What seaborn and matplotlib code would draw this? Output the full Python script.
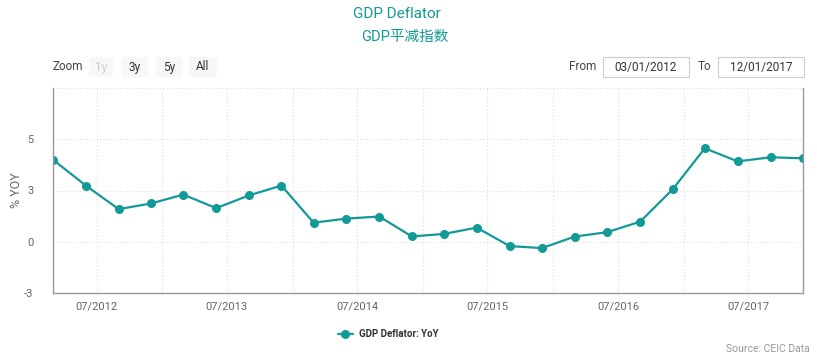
import numpy as np
import pandas as pd
import matplotlib
matplotlib.use("Agg")
import matplotlib.pyplot as plt
import matplotlib.dates as mdates
from matplotlib.patches import Rectangle
import seaborn as sns

dates = ["2012-03-01", "2012-06-01", "2012-09-01", "2012-12-01",
         "2013-03-01", "2013-06-01", "2013-09-01", "2013-12-01",
         "2014-03-01", "2014-06-01", "2014-09-01", "2014-12-01",
         "2015-03-01", "2015-06-01", "2015-09-01", "2015-12-01",
         "2016-03-01", "2016-06-01", "2016-09-01", "2016-12-01",
         "2017-03-01", "2017-06-01", "2017-09-01", "2017-12-01"]
yoy = [4.0, 2.74, 1.59, 1.87, 2.30, 1.64, 2.26, 2.74,
       0.93, 1.13, 1.23, 0.26, 0.38, 0.69, -0.21, -0.31,
       0.25, 0.47, 0.98, 2.56, 4.56, 3.92, 4.12, 4.07]
ytick_vals = [-2.5, 0, 2.5, 5, 7.5]
ytick_labels = ["-3", "0", "3", "5", ""]

TEAL = "#129a96"
GRAY = "#666666"
W, H = 817, 358

sns.set_style("white")
plt.rcParams["font.family"] = ["Roboto", "Noto Sans CJK SC", "DejaVu Sans"]

df = pd.DataFrame({"date": pd.to_datetime(dates), "yoy": yoy})

fig = plt.figure(figsize=(W/100, H/100), dpi=100)
ax = fig.add_axes([53/W, 1-293/H, (803-53)/W, (293-88)/H])

sns.lineplot(data=df, x="date", y="yoy", ax=ax, color=TEAL, linewidth=1.6,
             marker="o", markersize=6.5, markeredgewidth=0, label="GDP Deflator: YoY",
             legend=False)

ax.set_xlim(df["date"].iloc[0], df["date"].iloc[-1])
ax.set_ylim(-2.5, 7.5)
ax.set_yticks(ytick_vals)
ax.set_yticklabels(ytick_labels)

ax.xaxis.set_major_locator(mdates.MonthLocator(bymonth=[7]))
ax.xaxis.set_major_formatter(mdates.DateFormatter("%m/%Y"))
ax.xaxis.set_minor_locator(mdates.MonthLocator(bymonth=[1]))

ax.grid(True, which="both", axis="x", color="#dddddd", linestyle=(0, (1, 2)), linewidth=0.8)
ax.grid(True, which="major", axis="y", color="#dddddd", linestyle=(0, (1, 2)), linewidth=0.8)

ax.tick_params(axis="x", which="major", length=0, labelsize=8, labelcolor=GRAY, pad=6)
ax.tick_params(axis="x", which="minor", length=8, color="#ccd6eb", width=1)
ax.tick_params(axis="y", which="major", length=9, color="#ccd6eb", width=1,
               labelsize=8, labelcolor=GRAY, pad=5)

for side in ["left", "bottom", "right"]:
    ax.spines[side].set_visible(True)
    ax.spines[side].set_color("#999999")
    ax.spines[side].set_linewidth(1)
ax.spines["top"].set_visible(False)

ax.set_xlabel("")
ax.set_ylabel("% YOY", color=GRAY, fontsize=9)
ax.yaxis.set_label_coords((23-53)/750, 0.5)

# titles
fig.text(397/W, 1-14/H, "GDP Deflator", ha="center", va="center",
         color=TEAL, fontsize=11)
fig.text(405/W, 1-37/H, "GDP平减指数", ha="center", va="center",
         color=TEAL, fontsize=10.5)

def box(x0, x1, y0, y1, fc, ec=None):
    fig.patches.append(Rectangle((x0/W, 1-y1/H), (x1-x0)/W, (y1-y0)/H,
                                 transform=fig.transFigure, fc=fc,
                                 ec=ec if ec else "none", lw=0.8 if ec else 0))

# zoom buttons
fig.text(68/W, 1-67/H, "Zoom", ha="center", va="center", color="#444444", fontsize=8.5)
for x0, x1, t, c in [(89, 113, "1y", "#cccccc"), (122, 148, "3y", "#333333"),
                     (156, 182, "5y", "#333333"), (189, 217, "All", "#333333")]:
    box(x0, x1, 57, 77, "#f7f7f7")
    fig.text((x0+x1)/2/W, 1-67/H, t, ha="center", va="center", color=c, fontsize=8.5)

fig.text(583/W, 1-67/H, "From", ha="center", va="center", color="#444444", fontsize=8.5)
box(603, 689, 57, 77, "white", "#cccccc")
fig.text(646/W, 1-67/H, "03/01/2012", ha="center", va="center", color="#333333", fontsize=8.5)
fig.text(704/W, 1-67/H, "To", ha="center", va="center", color="#444444", fontsize=8.5)
box(718, 804, 57, 77, "white", "#cccccc")
fig.text(761/W, 1-67/H, "12/01/2017", ha="center", va="center", color="#333333", fontsize=8.5)

# legend
handles, labels = ax.get_legend_handles_labels()
leg = fig.legend(handles, labels, loc="center", bbox_to_anchor=(388/W, 1-334/H),
                 frameon=False, handlelength=1.6, handletextpad=0.6,
                 prop={"weight": "bold", "size": 7})
for t in leg.get_texts():
    t.set_color("#333333")

fig.text(810/W, 1-349/H, "Source: CEIC Data", ha="right", va="center",
         color="#999999", fontsize=7.5)

fig.savefig("out.png", dpi=100)
